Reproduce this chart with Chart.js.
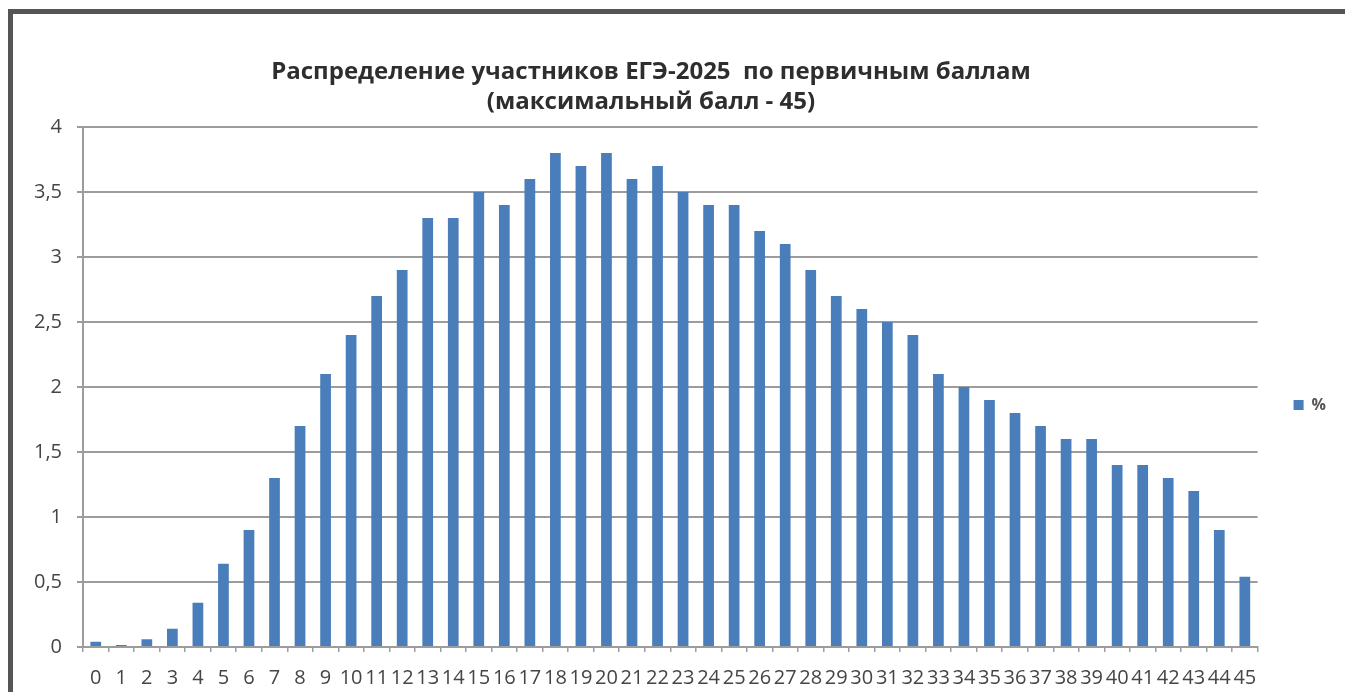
<!DOCTYPE html>
<html lang="ru">
<head>
<meta charset="utf-8">
<title>Распределение участников ЕГЭ-2025</title>
<script src="https://cdn.jsdelivr.net/npm/chart.js@4.4.1/dist/chart.umd.min.js"></script>
<style>
    html, body {
        margin: 0;
        padding: 0;
        width: 1345px;
        height: 692px;
        overflow: hidden;
        background: #ffffff;
    }
    /* dark frame round the chart */
    .frame {
        position: absolute;
        left: 8px;
        top: 9px;
        width: 1400px;
        height: 800px;
        border: 5px solid #555555;
        box-sizing: border-box;
    }
    .chart-box {
        position: absolute;
        left: -34px;
        top: 0;
        width: 1370px;
        height: 692px;
    }
</style>
</head>
<body>
<div class="frame"></div>
<div class="chart-box">
    <canvas id="scoreChart"></canvas>
</div>

<script>
// ============================================================================
// Data
// ============================================================================

// primary scores 0..45
const scores = ['0', '1', '2', '3', '4', '5', '6', '7', '8', '9',
    '10', '11', '12', '13', '14', '15', '16', '17', '18', '19',
    '20', '21', '22', '23', '24', '25', '26', '27', '28', '29',
    '30', '31', '32', '33', '34', '35', '36', '37', '38', '39',
    '40', '41', '42', '43', '44', '45'];

// share of participants, %
const percents = [0.04, 0.015, 0.06, 0.14, 0.34, 0.64, 0.9, 1.3, 1.7, 2.1,
    2.4, 2.7, 2.9, 3.3, 3.3, 3.5, 3.4, 3.6, 3.8, 3.7,
    3.8, 3.6, 3.7, 3.5, 3.4, 3.4, 3.2, 3.1, 2.9, 2.7,
    2.6, 2.5, 2.4, 2.1, 2.0, 1.9, 1.8, 1.7, 1.6, 1.6,
    1.4, 1.4, 1.3, 1.2, 0.9, 0.54];

const titleLines = ['Распределение участников ЕГЭ-2025  по первичным баллам',
    '(максимальный балл - 45)'];
const seriesLabel = '%';

// ============================================================================
// Chart
// ============================================================================

const gridColor = '#9c9c9c';
const textColor = '#454545';
const fontFamily = '"Open Sans", "Liberation Sans", sans-serif';

function createScoreChart(canvasId) {
    const ctx = document.getElementById(canvasId).getContext('2d');
    return new Chart(ctx, {
        type: 'bar',
        data: {
            labels: scores,
            datasets: [{
                label: seriesLabel,
                data: percents,
                backgroundColor: '#4a7ebb',
                borderWidth: 0,
                barPercentage: 0.42,
                categoryPercentage: 1.0
            }]
        },
        options: {
            responsive: true,
            maintainAspectRatio: false,
            animation: false,
            layout: {
                padding: 0
            },
            plugins: {
                title: {
                    display: true,
                    text: titleLines,
                    color: '#2e2e2e',
                    font: {
                        family: fontFamily,
                        size: 24,
                        weight: 'bold',
                        lineHeight: 1.25
                    },
                    padding: { top: 57, bottom: 10 }
                },
                legend: {
                    display: true,
                    position: 'right',
                    fullSize: false,
                    // empty title only pushes the single item a bit lower
                    title: {
                        display: true,
                        text: ' ',
                        padding: 0,
                        font: { size: 30, lineHeight: 1.2 }
                    },
                    labels: {
                        boxWidth: 10,
                        boxHeight: 10,
                        padding: 36,
                        color: '#555555',
                        font: {
                            family: fontFamily,
                            size: 16,
                            weight: 'bold'
                        }
                    }
                },
                tooltip: { enabled: false }
            },
            scales: {
                x: {
                    grid: {
                        display: true,
                        drawOnChartArea: false,
                        drawTicks: true,
                        tickLength: 5,
                        color: gridColor,
                        lineWidth: 1.5
                    },
                    border: {
                        color: gridColor,
                        width: 2
                    },
                    ticks: {
                        autoSkip: false,
                        maxRotation: 0,
                        minRotation: 0,
                        padding: 14,
                        color: textColor,
                        font: {
                            family: fontFamily,
                            size: 20
                        }
                    },
                    afterFit: function(scale) {
                        scale.height = 45;
                    }
                },
                y: {
                    min: 0,
                    max: 4,
                    grid: {
                        color: gridColor,
                        lineWidth: 2,
                        tickLength: 6
                    },
                    border: {
                        color: gridColor,
                        width: 2
                    },
                    ticks: {
                        stepSize: 0.5,
                        padding: 15,
                        color: textColor,
                        font: {
                            family: fontFamily,
                            size: 20
                        },
                        callback: function(value) {
                            return String(value).replace('.', ',');
                        }
                    },
                    afterFit: function(scale) {
                        scale.width = 117;
                    }
                }
            }
        }
    });
}

document.addEventListener('DOMContentLoaded', function() {
    createScoreChart('scoreChart');
});
</script>
</body>
</html>
